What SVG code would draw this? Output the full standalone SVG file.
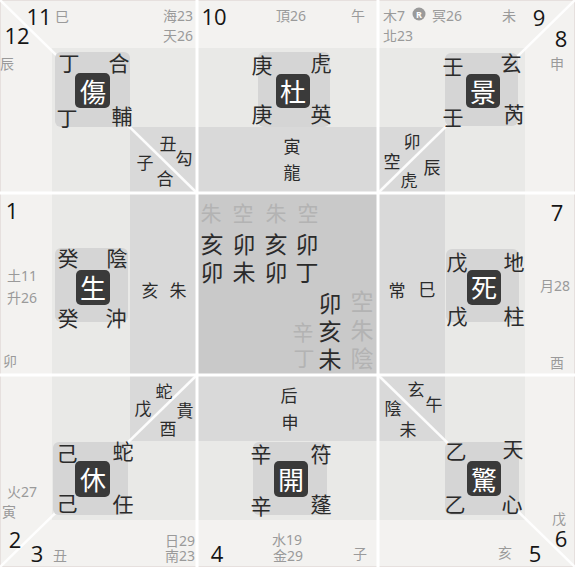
<svg xmlns="http://www.w3.org/2000/svg" width="575" height="567" viewBox="0 0 575 567">
<style>
.k{font-family:"Noto Sans CJK TC","Noto Sans CJK SC",sans-serif;font-size:21px;fill:#2b2b2b;text-anchor:middle;dominant-baseline:central}
.s{font-size:17px}
.c{font-size:23px}
.f{fill:#b3b3b3}
.w{font-size:26px;fill:#ffffff}
.g{font-family:"Noto Sans","Noto Sans CJK TC",sans-serif;font-size:14px;fill:#9a9a9a;dominant-baseline:central}
.gm{text-anchor:middle}
.ge{text-anchor:end}
.n{font-family:"Open Sans","Noto Sans",sans-serif;font-size:22px;fill:#151515;text-anchor:middle;dominant-baseline:central}
.ib{fill:#d5d5d5}
.bb{fill:#3a3a3a}
.wl{stroke:#ffffff;stroke-width:3;fill:none}
.dg{stroke:#ffffff;stroke-width:2.5;fill:none;opacity:0.9}
</style>
<g id="background">
<rect x="0" y="0" width="575" height="567" fill="#f3f2f0"/>
<rect x="52" y="48" width="473" height="472" fill="#e9e9e7"/>
<rect x="130" y="127" width="315" height="314" fill="#d9d9d9"/>
<rect x="197" y="193" width="180" height="182" fill="#c9c9c9"/>
<rect x="0.5" y="0.5" width="574" height="566" fill="none" stroke="#e6e0de"/>
</g>
<g id="connectors">
<line class="wl" x1="197" y1="0" x2="197" y2="567"/>
<line class="wl" x1="378" y1="0" x2="378" y2="567"/>
<line class="wl" x1="0" y1="193" x2="575" y2="193"/>
<line class="wl" x1="0" y1="375" x2="575" y2="375"/>
<line class="dg" x1="0" y1="0" x2="197" y2="193"/>
<line class="dg" x1="575" y1="0" x2="378" y2="193"/>
<line class="dg" x1="0" y1="567" x2="197" y2="375"/>
<line class="dg" x1="575" y1="567" x2="378" y2="375"/>
</g>
<g id="palace-shang">
<rect class="ib" x="55" y="52" width="75" height="75" rx="6"/>
<rect class="bb" x="75" y="73" width="35" height="35" rx="5"/>
<text class="n" x="39" y="16">11</text>
<text class="n" x="17" y="35">12</text>
<text class="g gm" x="62" y="16">巳</text>
<text class="g ge" x="193" y="15">海23</text>
<text class="g ge" x="193" y="35">天26</text>
<text class="g gm" x="7" y="63">辰</text>
<text class="k" x="69" y="62">丁</text>
<text class="k" x="119" y="62">合</text>
<text class="k" x="67" y="117">丁</text>
<text class="k" x="122" y="115">輔</text>
<text class="k w" x="93" y="90">傷</text>
<text class="k s" x="168" y="142">丑</text>
<text class="k s" x="145" y="161">子</text>
<text class="k s" x="184" y="157">勾</text>
<text class="k s" x="165" y="177">合</text>
</g>
<g id="palace-du">
<rect class="ib" x="258" y="52" width="72" height="75" rx="6"/>
<rect class="bb" x="276" y="74" width="34" height="34" rx="5"/>
<text class="n" x="214" y="16">10</text>
<text class="g gm" x="291" y="15">頂26</text>
<text class="g gm" x="358" y="15">午</text>
<text class="k" x="262" y="64">庚</text>
<text class="k" x="321" y="62">虎</text>
<text class="k" x="262" y="113">庚</text>
<text class="k" x="321" y="113">英</text>
<text class="k w" x="293" y="90">杜</text>
<text class="k s" x="292" y="145">寅</text>
<text class="k s" x="292" y="171">龍</text>
</g>
<g id="palace-jing">
<rect class="ib" x="445" y="53" width="73" height="73" rx="6"/>
<rect class="bb" x="466" y="74" width="34" height="34" rx="5"/>
<text class="g" x="383" y="15">木7</text>
<circle cx="419" cy="14" r="6.5" fill="#9a9a9a"/>
<text x="419" y="14.5" font-family="Noto Sans,sans-serif" font-size="9" font-weight="bold" fill="#ffffff" text-anchor="middle" dominant-baseline="central">R</text>
<text class="g" x="432" y="15">冥26</text>
<text class="g" x="383" y="35">北23</text>
<text class="g gm" x="509" y="15">未</text>
<text class="n" x="539" y="17">9</text>
<text class="n" x="561" y="38">8</text>
<text class="g gm" x="557" y="63">申</text>
<text class="k" x="453" y="65">壬</text>
<text class="k" x="511" y="62">玄</text>
<text class="k" x="453" y="116">壬</text>
<text class="k" x="514" y="113">芮</text>
<text class="k w" x="483" y="90">景</text>
<text class="k s" x="412" y="140">卯</text>
<text class="k s" x="392" y="160">空</text>
<text class="k s" x="432" y="166">辰</text>
<text class="k s" x="409" y="179">虎</text>
</g>
<g id="palace-sheng">
<rect class="ib" x="55" y="248" width="73" height="74" rx="6"/>
<rect class="bb" x="76" y="270" width="34" height="35" rx="5"/>
<text class="n" x="12" y="210">1</text>
<text class="g" x="7" y="275">土11</text>
<text class="g" x="7" y="297">升26</text>
<text class="g gm" x="10" y="360">卯</text>
<text class="k" x="68" y="257">癸</text>
<text class="k" x="117" y="257">陰</text>
<text class="k" x="68" y="317">癸</text>
<text class="k" x="116" y="317">沖</text>
<text class="k w" x="93" y="286">生</text>
<text class="k s" x="150" y="289">亥</text>
<text class="k s" x="178" y="289">朱</text>
</g>
<g id="palace-center">
<text class="k f" x="211" y="212">朱</text>
<text class="k f" x="243" y="212">空</text>
<text class="k f" x="276" y="212">朱</text>
<text class="k f" x="308" y="212">空</text>
<text class="k c" x="212" y="243">亥</text>
<text class="k c" x="244" y="243">卯</text>
<text class="k c" x="276" y="243">亥</text>
<text class="k c" x="307" y="243">卯</text>
<text class="k c" x="212" y="271">卯</text>
<text class="k c" x="244" y="271">未</text>
<text class="k c" x="276" y="271">卯</text>
<text class="k c" x="307" y="271">丁</text>
<text class="k c" x="330" y="302">卯</text>
<text class="k c" x="330" y="330">亥</text>
<text class="k c" x="330" y="358">未</text>
<text class="k c f" x="362" y="300">空</text>
<text class="k c f" x="362" y="329">朱</text>
<text class="k c f" x="362" y="357">陰</text>
<text class="k f" x="303" y="331">辛</text>
<text class="k f" x="304" y="357">丁</text>
</g>
<g id="palace-si">
<rect class="ib" x="446" y="249" width="73" height="73" rx="6"/>
<rect class="bb" x="467" y="270" width="34" height="35" rx="5"/>
<text class="n" x="557" y="212">7</text>
<text class="g gm" x="555" y="285">月28</text>
<text class="g gm" x="557" y="362">酉</text>
<text class="k s" x="397" y="289">常</text>
<text class="k s" x="427" y="288">巳</text>
<text class="k" x="457" y="261">戊</text>
<text class="k" x="514" y="261">地</text>
<text class="k" x="457" y="315">戊</text>
<text class="k" x="514" y="315">柱</text>
<text class="k w" x="484" y="286">死</text>
</g>
<g id="palace-xiu">
<rect class="ib" x="53" y="442" width="75" height="73" rx="6"/>
<rect class="bb" x="75" y="461" width="35" height="36" rx="5"/>
<text class="k s" x="164" y="390">蛇</text>
<text class="k s" x="143" y="407">戊</text>
<text class="k s" x="185" y="409">貴</text>
<text class="k s" x="168" y="427">酉</text>
<text class="k" x="67" y="452">己</text>
<text class="k" x="123" y="450">蛇</text>
<text class="k" x="67" y="502">己</text>
<text class="k" x="123" y="503">任</text>
<text class="k w" x="93" y="478">休</text>
<text class="g" x="7" y="491">火27</text>
<text class="g gm" x="9" y="511">寅</text>
<text class="n" x="15" y="539">2</text>
<text class="n" x="37" y="553">3</text>
<text class="g gm" x="60" y="555">丑</text>
<text class="g ge" x="195" y="540">日29</text>
<text class="g ge" x="195" y="555">南23</text>
</g>
<g id="palace-kai">
<rect class="ib" x="253" y="442" width="74" height="73" rx="6"/>
<rect class="bb" x="274" y="461" width="34" height="36" rx="5"/>
<text class="k s" x="289" y="394">后</text>
<text class="k s" x="290" y="421">申</text>
<text class="k" x="261" y="453">辛</text>
<text class="k" x="321" y="453">符</text>
<text class="k" x="261" y="505">辛</text>
<text class="k" x="321" y="503">蓬</text>
<text class="k w" x="291" y="478">開</text>
<text class="g gm" x="287" y="539">水19</text>
<text class="g gm" x="288" y="555">金29</text>
<text class="n" x="217" y="553">4</text>
<text class="g gm" x="360" y="553">子</text>
</g>
<g id="palace-jing2">
<rect class="ib" x="445" y="442" width="74" height="73" rx="6"/>
<rect class="bb" x="467" y="461" width="34" height="35" rx="5"/>
<text class="k s" x="416" y="388">玄</text>
<text class="k s" x="434" y="403">午</text>
<text class="k s" x="393" y="407">陰</text>
<text class="k s" x="408" y="428">未</text>
<text class="k" x="456" y="450">乙</text>
<text class="k" x="513" y="448">天</text>
<text class="k" x="455" y="503">乙</text>
<text class="k" x="512" y="503">心</text>
<text class="k w" x="484" y="478">驚</text>
<text class="g gm" x="559" y="518">戊</text>
<text class="n" x="561" y="538">6</text>
<text class="n" x="535" y="553">5</text>
<text class="g gm" x="505" y="552">亥</text>
</g>
</svg>
